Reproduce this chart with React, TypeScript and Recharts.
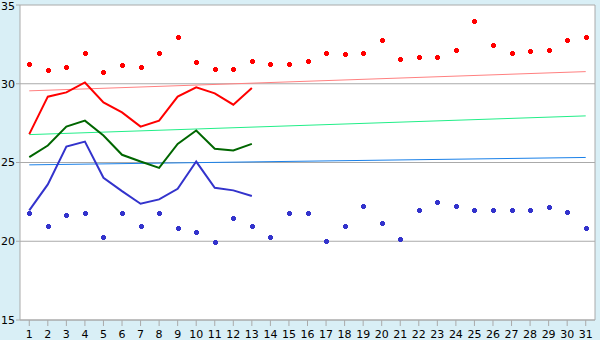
import {
  ComposedChart,
  Line,
  XAxis,
  YAxis,
  CartesianGrid,
  ReferenceLine,
} from "recharts";

const days = Array.from({ length: 31 }, (_, i) => i + 1);

// daily max / min points
const highs = [
  31.25, 30.87, 31.06, 31.94, 30.74, 31.18, 31.06, 31.94, 32.95, 31.37, 30.93,
  30.93, 31.44, 31.25, 31.25, 31.44, 31.94, 31.88, 31.94, 32.76, 31.56, 31.69,
  31.69, 32.13, 33.97, 32.45, 31.94, 32.07, 32.13, 32.76, 32.95,
];
const lows = [
  21.82, 20.99, 21.69, 21.82, 20.3, 21.82, 20.99, 21.82, 20.87, 20.61, 19.98,
  21.5, 20.99, 20.3, 21.82, 21.82, 20.0, 21.0, 22.26, 21.18, 20.17, 22.0, 22.51,
  22.26, 22.0, 22.0, 22.0, 22.0, 22.2, 21.88, 20.87,
];

// lines for the first 13 days
const maxLine = [
  26.8, 29.18, 29.45, 30.08, 28.82, 28.18, 27.28, 27.66, 29.18, 29.77, 29.39,
  28.67, 29.73,
];
const meanLine = [
  25.34, 26.08, 27.28, 27.66, 26.71, 25.49, 25.06, 24.66, 26.18, 27.03, 25.87,
  25.76, 26.18,
];
const minLine = [
  21.96, 23.61, 26.01, 26.33, 24.03, 23.18, 22.38, 22.66, 23.33, 25.06, 23.39,
  23.23, 22.87,
];

// trend lines: start and end values
const trendHi = [29.55, 30.77];
const trendMid = [26.77, 27.96];
const trendLo = [24.85, 25.32];

const yTicks = [15, 20, 25, 30, 35];

const data = days.map((d, i) => ({
  day: d,
  hi: highs[i],
  lo: lows[i],
  max: i < maxLine.length ? maxLine[i] : null,
  mean: i < meanLine.length ? meanLine[i] : null,
  min: i < minLine.length ? minLine[i] : null,
  tHi: i === 0 ? trendHi[0] : i === days.length - 1 ? trendHi[1] : null,
  tMid: i === 0 ? trendMid[0] : i === days.length - 1 ? trendMid[1] : null,
  tLo: i === 0 ? trendLo[0] : i === days.length - 1 ? trendLo[1] : null,
}));

function cross(color: string) {
  return (props: any) => {
    const { cx, cy, index } = props;
    if (cx == null || cy == null) return <g key={index} />;
    const x = Math.round(cx);
    const y = Math.round(cy);
    return (
      <g key={index} fill={color} stroke="none" shapeRendering="crispEdges">
        <rect x={x - 1} y={y - 2} width={3} height={5} />
        <rect x={x - 2} y={y - 1} width={5} height={3} />
      </g>
    );
  };
}

const tickStyle = { fill: "#000", fontSize: 11, fontFamily: "DejaVu Sans" };

export default function App() {
  return (
    <div
      style={{
        position: "absolute",
        left: 0,
        top: 0,
        width: 600,
        height: 340,
        background: "#d9eff6",
      }}
    >
      <ComposedChart
        width={600}
        height={340}
        data={data}
        margin={{ top: 5, right: 5, bottom: 0, left: 0 }}
      >
        <CartesianGrid
          vertical={false}
          stroke="#aaaaaa"
          fill="#ffffff"
          fillOpacity={1}
        />
        <XAxis
          dataKey="day"
          type="number"
          domain={[0.5, 31.5]}
          ticks={days}
          interval={0}
          height={20}
          stroke="#aaaaaa"
          tickSize={6}
          tick={tickStyle}
          tickMargin={4}
        />
        <YAxis
          type="number"
          domain={[15, 35]}
          ticks={yTicks}
          width={20}
          stroke="#aaaaaa"
          tickSize={4}
          tick={tickStyle}
          tickMargin={1}
        />
        <ReferenceLine x={31.5} stroke="#aaaaaa" />
        <Line
          dataKey="tHi"
          stroke="#ff8080"
          strokeWidth={1}
          dot={false}
          connectNulls
          isAnimationActive={false}
        />
        <Line
          dataKey="tMid"
          stroke="#22ee88"
          strokeWidth={1}
          dot={false}
          connectNulls
          isAnimationActive={false}
        />
        <Line
          dataKey="tLo"
          stroke="#1a80e8"
          strokeWidth={1}
          dot={false}
          connectNulls
          isAnimationActive={false}
        />
        <Line
          dataKey="max"
          stroke="#ff0000"
          strokeWidth={2}
          dot={false}
          isAnimationActive={false}
        />
        <Line
          dataKey="mean"
          stroke="#006600"
          strokeWidth={2}
          dot={false}
          isAnimationActive={false}
        />
        <Line
          dataKey="min"
          stroke="#3333cc"
          strokeWidth={2}
          dot={false}
          isAnimationActive={false}
        />
        <Line
          dataKey="hi"
          stroke="none"
          dot={cross("#ff0000")}
          activeDot={false}
          isAnimationActive={false}
        />
        <Line
          dataKey="lo"
          stroke="none"
          dot={cross("#3333cc")}
          activeDot={false}
          isAnimationActive={false}
        />
      </ComposedChart>
    </div>
  );
}
